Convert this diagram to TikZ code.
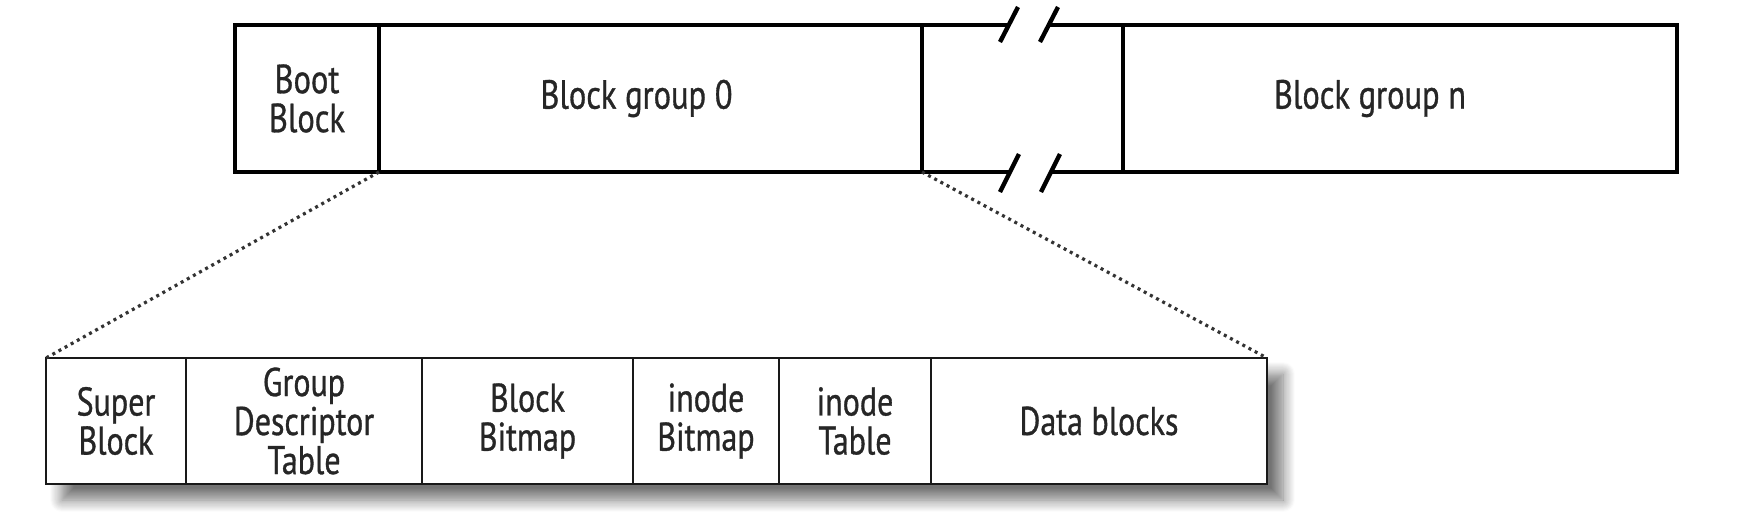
\documentclass[tikz,border=0pt]{standalone}
\usepackage{fontspec}
\setmainfont{PT Sans}[FakeStretch=0.8,FakeBold=0.8]
\usetikzlibrary{shadows.blur,fit}
\begin{document}
\begin{tikzpicture}[x=0.5pt,y=-0.5pt,
  topcell/.style={draw=black, line width=2pt, outer sep=0pt, minimum height=73.5pt, inner sep=0pt, align=center,
    font=\fontsize{20.3}{19.5}\selectfont, text=black!85},
  botcell/.style={draw=black!90, line width=1.1pt, outer sep=0pt, minimum height=63pt, inner sep=0pt, align=center,
    font=\fontsize{20}{19.5}\selectfont, text=black!85},
  breakline/.style={line width=2pt, black},
  slashline/.style={line width=2.2pt, black},
  zoomline/.style={line width=1.6pt, black!80, dash pattern=on 1.5pt off 2pt}]
\useasboundingbox (0,0) rectangle (1757,521);
% top bar
\node[topcell, minimum width=72pt] (boot) at (307,98.5) {Boot\\Block};
\node[topcell, minimum width=271.5pt] (g0) at (650.5,98.5) {\raisebox{-2.8pt}{\hspace*{-14pt}Block group 0}};
\node[topcell, minimum width=277pt] (gn) at (1400,98.5) {\raisebox{-2.8pt}{\hspace*{-30pt}Block group n}};
% break region
\coordinate (t1) at (1009,25);
\coordinate (t2) at (1050,25);
\coordinate (b1) at (1010,172);
\coordinate (b2) at (1051,172);
\draw[breakline] (g0.north east) -- (t1);
\draw[breakline] (t2) -- (gn.north west);
\draw[breakline] (g0.south east) -- (b1);
\draw[breakline] (b2) -- (gn.south west);
\coordinate (s1a) at (1000,42); \coordinate (s1b) at (1018,7);
\coordinate (s2a) at (1040,42); \coordinate (s2b) at (1058,7);
\coordinate (s3a) at (1000,192); \coordinate (s3b) at (1019,154);
\coordinate (s4a) at (1041,192); \coordinate (s4b) at (1060,154);
\draw[slashline] (s1a) -- (s1b);
\draw[slashline] (s2a) -- (s2b);
\draw[slashline] (s3a) -- (s3b);
\draw[slashline] (s4a) -- (s4b);
% bottom bar cells (positions)
\path (116,421) coordinate (csuper) (304,421) coordinate (cgdt) (527.5,421) coordinate (cbb)
      (706,421) coordinate (cib) (855,421) coordinate (cit) (1099,421) coordinate (cdb);
\node[inner sep=0pt, minimum width=610.5pt, minimum height=63pt, fill=white,
  blur shadow={shadow xshift=8pt, shadow yshift=-8pt, shadow blur radius=6pt, shadow blur steps=12, shadow opacity=55}]
  (shadowbox) at (656.5,421) {};
\node[botcell, minimum width=70pt] (super) at (csuper) {Super\\Block};
\node[botcell, minimum width=118pt] (gdt) at (cgdt) {Group\\Descriptor\\Table};
\node[botcell, minimum width=105.5pt] (bb) at (cbb) {Block\\Bitmap};
\node[botcell, minimum width=73pt] (ib) at (cib) {inode\\Bitmap};
\node[botcell, minimum width=76pt] (it) at (cit) {inode\\Table};
\node[botcell, minimum width=168pt] (db) at (cdb) {Data blocks};
\draw[line width=1.4pt, black!90] (super.north west) rectangle (db.south east);
% zoom lines
\draw[zoomline] (g0.south west) -- (super.north west);
\draw[zoomline] (g0.south east) -- (db.north east);
\end{tikzpicture}
\end{document}
